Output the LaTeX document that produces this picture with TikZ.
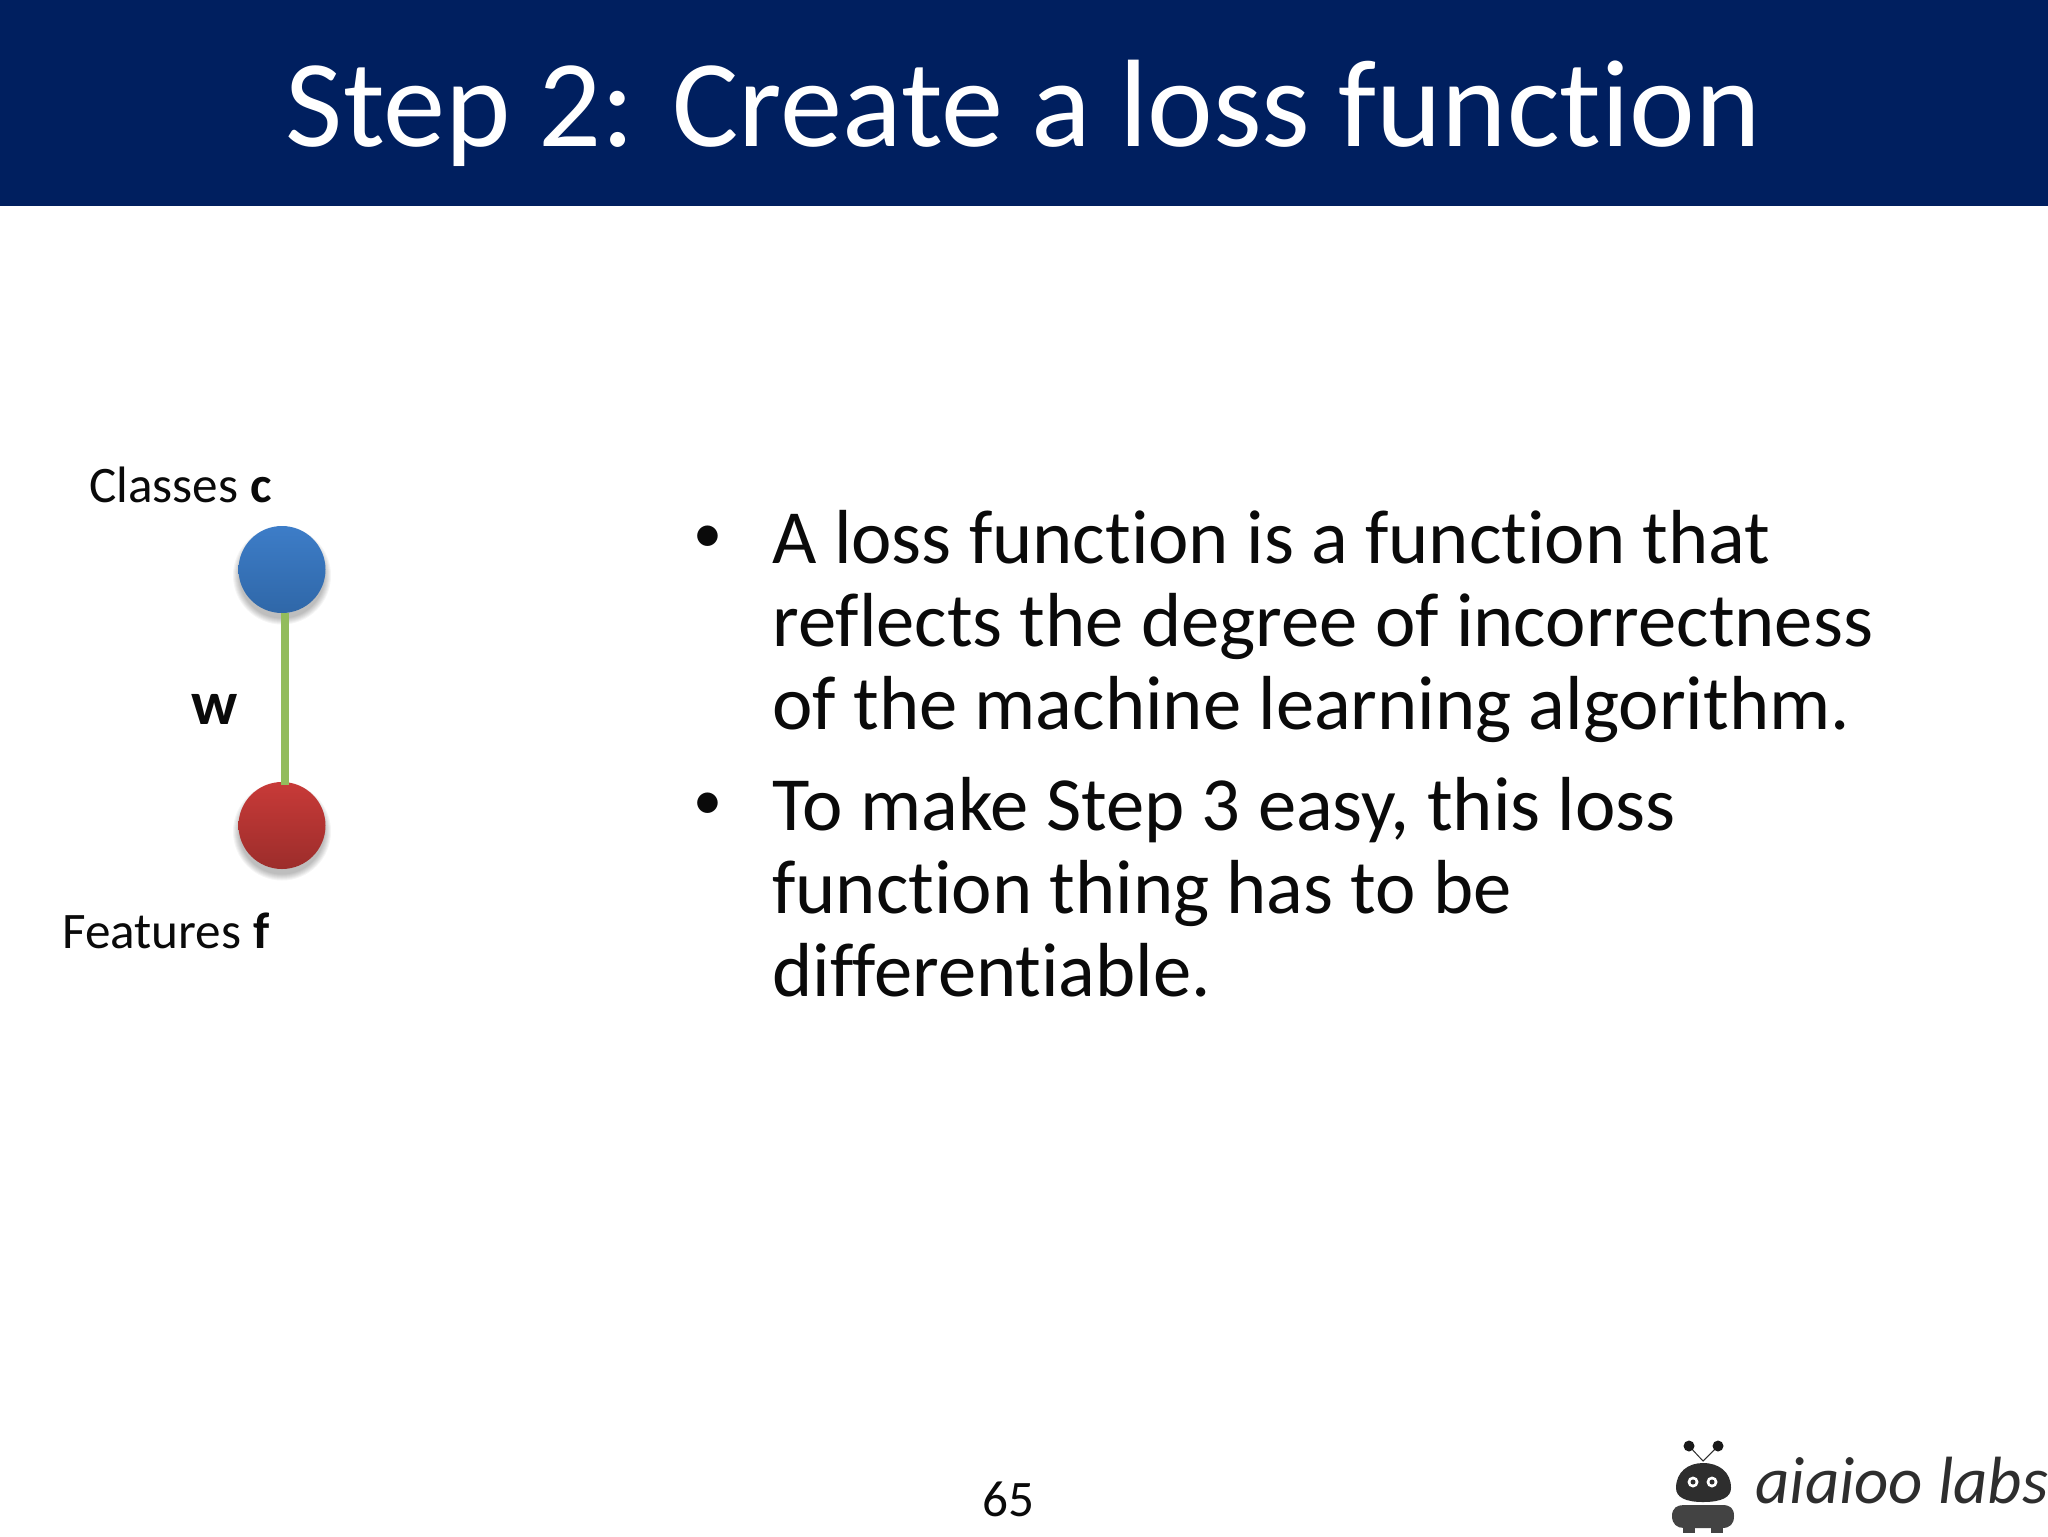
\documentclass[tikz,border=0pt]{standalone}
\usepackage{fontspec}
\setmainfont[Ligatures=NoCommon]{Carlito}
\usetikzlibrary{calc}
\definecolor{bandblue}{HTML}{001F5F}
\definecolor{inkblack}{HTML}{0A0A0A}
\definecolor{edgegreen}{HTML}{93BC5C}
\definecolor{logodark}{HTML}{2E2E2E}
\definecolor{bluetop}{HTML}{3D7DC8}
\definecolor{bluebot}{HTML}{2F67A8}
\definecolor{redtop}{HTML}{C83A38}
\definecolor{redbot}{HTML}{9C2D2B}
\tikzset{
  x=0.5pt,y=-0.5pt,
  titletext/.style={anchor=base,text=white,font=\fontsize{62.2}{63}\selectfont,inner sep=0pt},
  bodytext/.style={anchor=north west,align=left,text=inkblack,inner sep=0pt,font=\fontsize{38.3}{41.7}\selectfont},
  bullettext/.style={anchor=base,text=inkblack,inner sep=0pt,font=\fontsize{29}{29}\selectfont},
  smalllabel/.style={anchor=base west,text=inkblack,inner sep=0pt,font=\fontsize{25.6}{26}\selectfont},
  graphnode/.style={circle,minimum size=43.5pt,inner sep=0pt,draw=none},
  edgeline/.style={draw=edgegreen,line width=3.8pt},
  logotext/.style={anchor=base west,text=logodark,inner sep=0pt,font=\fontsize{33.4}{35}\itshape\selectfont},
}
\newcommand{\softshadow}[2]{%
  \foreach \rr in {49,48,47,46,45,44,43}{%
    \fill[black,opacity=0.04] (#1,#2+6) circle[radius=\rr];}}
\begin{document}
\begin{tikzpicture}
\useasboundingbox (0,0) rectangle (2048,1536);
\fill[white] (0,0) rectangle (2048,1536);
\fill[bandblue] (0,0) rectangle (2048,206);
\node[titletext] (title) at (1023.5,146) {Step 2: Create a loss function};

% graph
\softshadow{282}{569.5}
\softshadow{282}{825.5}
\node[graphnode,top color=bluetop,bottom color=bluebot] (classes) at (282,569.5) {};
\node[graphnode,top color=redtop,bottom color=redbot] (features) at (282,825.5) {};
\draw[edgeline,shorten >=-1.5pt] ([xshift=1.5pt]classes.south) -- ([xshift=1.5pt]features.north);
\node[smalllabel] (clabel) at (89,502) {Classes \textbf{c}};
\node[smalllabel] (flabel) at (62,948) {Features \textbf{f}};
\node[smalllabel,font=\fontsize{31}{31}\bfseries\selectfont] (wlabel) at (191,724) {w};

% bullets
\node[bullettext] (b1) at (708,552) {•};
\node[bullettext] (b2) at (708,819) {•};
\node[bodytext] (t1) at (772,509.5) {A loss function is a function that\\reflects the degree of incorrectness\\of the machine learning algorithm.};
\node[bodytext] (t2) at (772,776.5) {To make Step 3 easy, this loss\\function thing has to be\\differentiable.};

% page number
\node[smalllabel,anchor=base] (page) at (1008.5,1516) {65};

% logo
\draw[logodark,line width=0.5pt] (1689,1446) -- (1703,1461) -- (1718,1446);
\fill[black!90] (1689,1446) circle[radius=5.5];
\fill[black!90] (1718,1446) circle[radius=5.5];
\fill[logodark] (1676,1488) .. controls (1676,1472) and (1688,1463) .. (1703,1463)
   .. controls (1719,1463) and (1731,1472) .. (1731,1488)
   .. controls (1731,1497) and (1722,1502) .. (1703,1502)
   .. controls (1685,1502) and (1676,1497) .. (1676,1488) -- cycle;
\foreach \ex in {1693,1712}{
  \fill[white] (\ex,1482) circle[radius=5.5];
  \fill[logodark] (\ex,1482) circle[radius=2.5];
}
\fill[logodark!90] (1672,1516) .. controls (1672,1508) and (1677,1505) .. (1684,1505)
   -- (1722,1505) .. controls (1730,1505) and (1734,1508) .. (1734,1516)
   .. controls (1734,1524) and (1730,1528) .. (1722,1528)
   -- (1684,1528) .. controls (1677,1528) and (1672,1524) .. (1672,1516) -- cycle;
\fill[logodark!90] (1683,1526) rectangle (1695,1533);
\fill[logodark!90] (1711,1526) rectangle (1723,1533);
\node[logotext] (logo) at (1755,1503) {aiaioo labs};
\end{tikzpicture}
\end{document}
